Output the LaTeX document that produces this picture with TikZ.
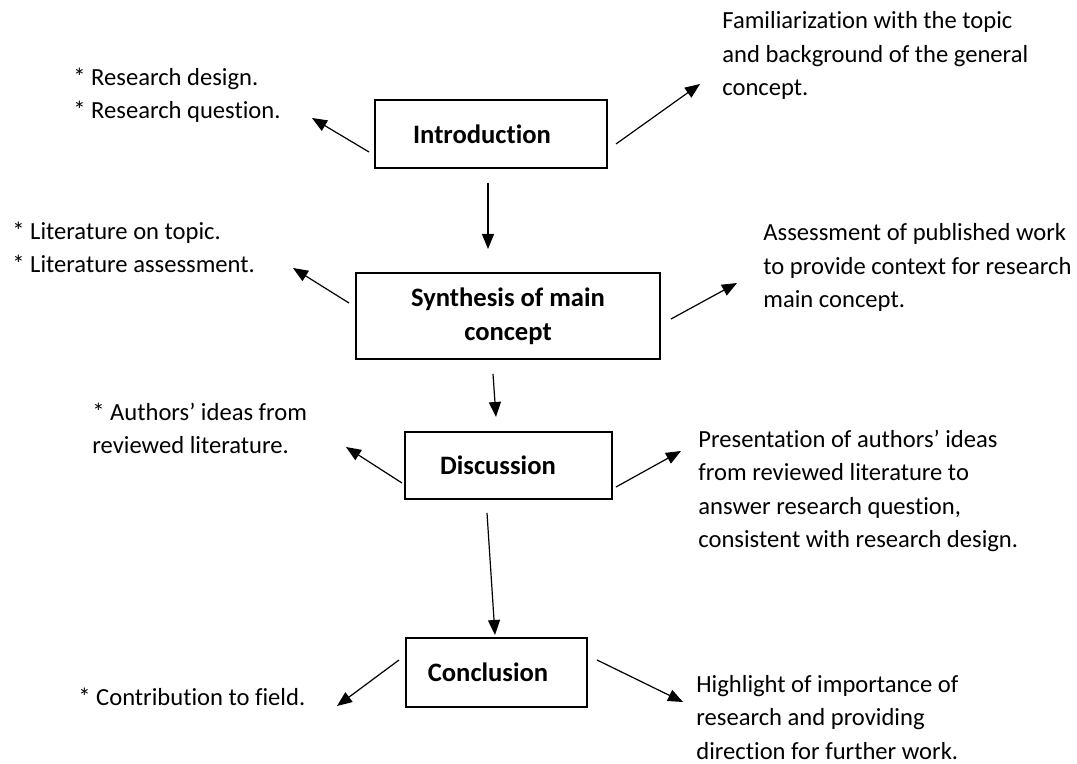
\documentclass[tikz,border=0pt]{standalone}
\usepackage{fontspec}
\setmainfont{Carlito}[Ligatures={TeX,NoCommon}]
\usetikzlibrary{arrows.meta}

\begin{document}
\begin{tikzpicture}[x=0.5pt,y=-0.5pt,
  box/.style={draw, line width=1pt, inner sep=0pt, align=center,
    font=\fontsize{13.3}{17}\selectfont\bfseries},
  note/.style={inner sep=0pt, anchor=base west, align=left,
    font=\fontsize{12.3}{16.75}\selectfont},
  arr/.style={line width=0.6pt, -{Triangle[length=7.5pt,width=6pt]}}]
\useasboundingbox (0,0) rectangle (1077,764);
\node[box, minimum width=116pt, minimum height=34pt] (intro) at (491,134) {Introduction\hspace*{9pt}};
\node[box, minimum width=152pt, minimum height=43pt] (synth) at (508,316) {Synthesis of main\\concept};
\node[box, minimum width=103.5pt, minimum height=33.5pt] (disc) at (508.5,465.5) {Discussion\hspace*{10.5pt}};
\node[box, minimum width=90.5pt, minimum height=34.5pt] (concl) at (496.5,672.5) {Conclusion\hspace*{8.5pt}};
% base anchor = baseline of the last line
\node[note] (design) at (73,119) {* Research design.\\* Research question.};
\node[note] (famil) at (722,96) {Familiarization with the topic\\and background of the general\\concept.};
\node[note] (litr) at (12,273) {* Literature on topic.\\* Literature assessment.};
\node[note] (assess) at (763,308) {Assessment of published work\\to provide context for research\\main concept.};
\node[note] (ideas) at (92,454) {* Authors’ ideas from\\reviewed literature.};
\node[note] (present) at (698,547.5) {Presentation of authors’ ideas\\from reviewed literature to\\answer research question,\\consistent with research design.};
\node[note] (contrib) at (78,705) {* Contribution to field.};
\node[note] (highl) at (696,759) {Highlight of importance of\\research and providing\\direction for further work.};
\coordinate (tipIL) at (312,118);
\coordinate (tipIR) at (700,84);
\coordinate (tipSL) at (293,268);
\coordinate (tipSR) at (737,283);
\coordinate (tipDL) at (346,447);
\coordinate (tipDR) at (681,451);
\coordinate (tipCL) at (337,706);
\coordinate (tipCR) at (683,702);
\draw[arr] ([xshift=-1.5pt,yshift=-7pt]intro.south) -- ([xshift=-10pt,yshift=11.5pt]synth.north);
\draw[arr] ([xshift=-7.5pt,yshift=-7pt]synth.south) -- ([xshift=-6.25pt,yshift=7pt]disc.north);
\draw[arr] ([xshift=-10.75pt,yshift=-6.5pt]disc.south) -- ([xshift=-0.75pt,yshift=1pt]concl.north);
\draw[arr] ([xshift=-2.5pt,yshift=-9pt]intro.west) -- (tipIL);
\draw[arr] ([xshift=4pt,yshift=-5pt]intro.east) -- (tipIR);
\draw[arr] ([xshift=-3pt,yshift=6.5pt]synth.west) -- (tipSL);
\draw[arr] ([xshift=5pt,yshift=-1.5pt]synth.east) -- (tipSR);
\draw[arr] ([xshift=-1pt,yshift=-8.75pt]disc.west) -- (tipDL);
\draw[arr] ([xshift=1.5pt,yshift=-10.75pt]disc.east) -- (tipDR);
\draw[arr] ([xshift=-3pt,yshift=6.25pt]concl.west) -- (tipCL);
\draw[arr] ([xshift=4.5pt,yshift=6.25pt]concl.east) -- (tipCR);
\end{tikzpicture}
\end{document}
